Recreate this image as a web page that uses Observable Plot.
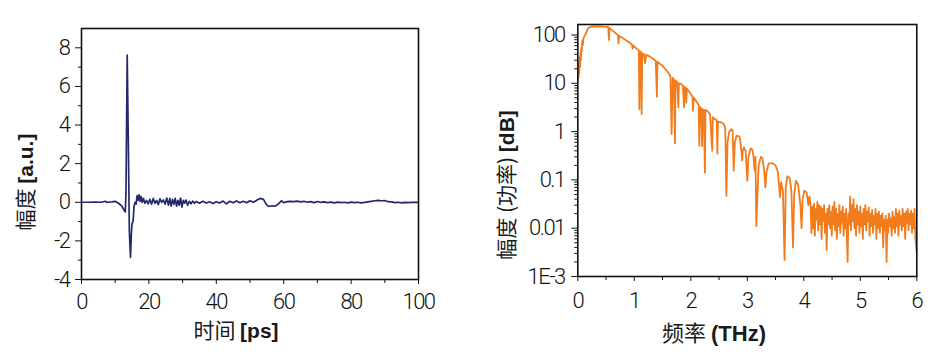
<!DOCTYPE html>
<html><head><meta charset="utf-8">
<script src="https://cdn.jsdelivr.net/npm/d3@7"></script>
<script src="https://cdn.jsdelivr.net/npm/@observablehq/plot@0.6"></script>
<style>
html,body{margin:0;padding:0;background:#fff;}
#wrap{position:relative;width:946px;height:364px;overflow:hidden;background:#fff;}
#wrap svg{position:absolute;top:0;}
</style></head><body><div id="wrap"></div>
<script>
// ---------- data ----------
// time-domain waveform: [time ps, amplitude a.u.]
const waveform = [
[0,0],[2,0],[4,0.01],[6,0],[7,0.05],[7.5,0],[9,0.02],[10,0.05],[11,-0.05],[12,-0.2],[12.6,-0.4],[13.0,-0.5],
[13.2,0.5],[13.56,7.62],[13.9,3],[14.2,-1.5],[14.54,-2.86],[14.8,-1.6],[15.0,-1.1],[15.3,-1.0],[15.6,-0.2],[15.9,0.0],
[16.2,-0.1],[16.5,0.35],[16.8,0.1],[17.1,0.38],[17.4,0.05],[17.7,0.3],[18.0,0.0],[18.4,0.2],[18.8,-0.05],[19.3,0.1],
[19.8,-0.08],[20.3,0.15],[20.8,-0.1],[21.3,0.2],[21.8,-0.05],[22.3,0.1],[22.8,-0.12],[23.3,0.18],[23.8,0.0],[24.3,0.12],
[24.8,-0.1],[25.3,0.22],[25.8,-0.15],[26.2,0.2],[26.6,-0.2],[27.0,0.15],[27.4,-0.1],[27.8,0.2],[28.2,-0.2],[28.6,0.1],
[29.0,-0.15],[29.4,0.22],[29.8,-0.25],[30.2,0.1],[30.6,-0.05],[31.0,0.12],[31.5,-0.15],[32.0,0.05],[32.5,-0.08],[33.0,0.06],
[33.5,-0.05],[34,0.04],[35,-0.05],[36,0.05],[37,-0.04],[38,0.03],[39,-0.06],[40,0.03],[41,-0.04],[42,0.06],[43,-0.08],
[44,0.05],[45,-0.03],[46,0.07],[47,-0.03],[48,0.05],[49,-0.02],[50,0.08],[51,0.0],[52,0.1],[53,0.2],[54,0.15],[54.8,-0.1],
[55.5,-0.22],[56.5,-0.18],[57.5,-0.2],[58.5,-0.08],[59.3,0.08],[60,-0.02],[61,0.03],[62,0.05],[63,0.03],[64,0.06],[65,0.02],
[66,0.05],[67,0.0],[68,0.03],[69,-0.02],[70,0.04],[71,-0.01],[72,0.02],[73,-0.02],[74,0.01],[75,-0.03],[76,0.01],[77,-0.02],
[78,0.0],[79,-0.03],[80,0.01],[81,-0.02],[82,0.0],[83,-0.03],[84,-0.01],[85,0.02],[86,0.05],[87,0.08],[88,0.1],[89,0.08],
[90,0.09],[91,0.03],[92,0.02],[93,-0.02],[94,0.0],[95,-0.03],[96,-0.01],[97,-0.02],[98,-0.01],[99,0.0],[100,-0.01]
];
// spectrum: [frequency THz, power]
const spectrum = [
[0,11],[0.008,20],[0.012,13],[0.02,28],[0.026,16],[0.033,35],[0.04,22],[0.048,44],[0.055,30],[0.062,55],[0.07,45],[0.08,76],
[0.09,62],[0.1,85],[0.12,95],[0.14,105],[0.165,125],[0.19,140],[0.22,147],[0.3,150],[0.38,151],[0.45,149],[0.52,148],[0.54,146],
[0.55,79],[0.56,140],[0.6,128],[0.66,112],[0.71,98],[0.72,67],[0.73,96],[0.8,86],[0.9,72],[0.96,63],[0.97,52],[0.98,61],
[1.05,51],[1.08,48],[1.09,2.9],[1.1,46],[1.12,44],[1.13,2.3],[1.14,42],[1.17,40],[1.19,26],[1.21,39],[1.25,37],[1.32,33],
[1.38,29],[1.4,5.3],[1.41,28],[1.5,23],[1.58,18],[1.64,14],[1.66,0.89],[1.68,13],[1.7,12],[1.72,0.57],[1.73,11.5],[1.76,10.5],
[1.78,3.2],[1.79,10],[1.82,9.8],[1.86,9],[1.88,3.2],[1.89,8.5],[1.91,8],[1.92,4],[1.93,7.8],[2.0,6],[2.03,5.3],[2.04,2.7],
[2.05,5.1],[2.1,4.2],[2.14,3.5],[2.15,0.51],[2.17,3.2],[2.19,3.0],[2.2,0.5],[2.21,2.9],[2.23,2.8],[2.25,0.14],[2.26,2.8],
[2.29,2.7],[2.34,2.3],[2.38,0.4],[2.39,2.0],[2.43,1.8],[2.46,1.7],[2.47,0.35],[2.48,1.6],[2.54,1.55],[2.58,1.45],[2.61,1.2],
[2.63,0.047],[2.65,0.6],[2.68,1.0],[2.72,1.12],[2.74,1.05],[2.76,0.155],[2.78,0.6],[2.81,0.82],[2.86,0.8],[2.88,0.6],[2.91,0.25],
[2.92,0.4],[2.94,0.47],[2.97,0.4],[3.0,0.096],[3.02,0.3],[3.06,0.45],[3.09,0.42],[3.11,0.3],[3.13,0.155],[3.145,0.3],[3.16,0.011],
[3.2,0.2],[3.24,0.3],[3.27,0.28],[3.3,0.15],[3.32,0.07],[3.34,0.15],[3.38,0.22],[3.45,0.22],[3.5,0.2],[3.54,0.15],[3.58,0.044],
[3.6,0.09],[3.63,0.06],[3.66,0.0022],[3.68,0.07],[3.71,0.12],[3.75,0.11],[3.78,0.06],[3.81,0.004],[3.83,0.05],[3.86,0.095],
[3.9,0.08],[3.94,0.03],[3.96,0.01],[3.98,0.04],[4.01,0.06],[4.05,0.055],[4.08,0.03],[4.1,0.045],
[4.12,0.03],[4.135,0.008],[4.15,0.028],[4.165,0.01],[4.18,0.032],[4.195,0.007],[4.21,0.025],[4.225,0.015],[4.24,0.035],
[4.255,0.009],[4.27,0.03],[4.285,0.012],[4.30,0.028],[4.315,0.006],[4.33,0.025],[4.345,0.014],[4.36,0.03],[4.375,0.008],
[4.39,0.02],[4.405,0.0035],[4.42,0.025],[4.435,0.012],[4.45,0.03],[4.465,0.01],[4.48,0.022],[4.495,0.007],[4.51,0.028],
[4.525,0.012],[4.54,0.035],[4.555,0.009],[4.57,0.025],[4.585,0.006],[4.60,0.02],[4.615,0.011],[4.63,0.03],[4.645,0.008],
[4.66,0.022],[4.675,0.013],[4.69,0.028],[4.705,0.007],[4.72,0.02],[4.735,0.01],[4.75,0.025],[4.765,0.005],[4.775,0.002],
[4.79,0.02],[4.805,0.012],[4.82,0.045],[4.835,0.009],[4.85,0.03],[4.865,0.014],[4.88,0.04],[4.895,0.01],[4.91,0.025],
[4.925,0.007],[4.94,0.03],[4.955,0.012],[4.97,0.022],[4.985,0.008],[5.00,0.028],[5.015,0.011],[5.03,0.02],[5.045,0.006],
[5.06,0.025],[5.075,0.012],[5.09,0.03],[5.105,0.009],[5.12,0.022],[5.135,0.014],[5.15,0.027],[5.165,0.007],[5.18,0.02],
[5.195,0.011],[5.21,0.024],[5.225,0.008],[5.24,0.018],[5.255,0.012],[5.27,0.025],[5.285,0.006],[5.30,0.02],[5.315,0.01],
[5.33,0.022],[5.345,0.008],[5.36,0.018],[5.375,0.011],[5.39,0.02],[5.405,0.004],[5.42,0.015],[5.435,0.009],[5.45,0.018],
[5.465,0.002],[5.48,0.015],[5.495,0.008],[5.51,0.02],[5.525,0.011],[5.54,0.016],[5.555,0.007],[5.57,0.022],[5.585,0.01],
[5.60,0.017],[5.615,0.008],[5.63,0.025],[5.645,0.011],[5.66,0.02],[5.675,0.007],[5.69,0.023],[5.705,0.012],[5.72,0.018],
[5.735,0.009],[5.75,0.025],[5.765,0.011],[5.78,0.02],[5.795,0.006],[5.81,0.022],[5.825,0.013],[5.84,0.025],[5.855,0.009],
[5.87,0.02],[5.885,0.012],[5.90,0.023],[5.915,0.008],[5.93,0.02],[5.945,0.01],[5.96,0.025],[5.975,0.006],[5.99,0.004],[6.0,0.003]
];
// ticks and labels
const timeTicks = [0, 20, 40, 60, 80, 100];
const timeMinorTicks = [10, 30, 50, 70, 90];
const ampTicks = [-4, -2, 0, 2, 4, 6, 8];
const ampMinorTicks = [-3, -1, 1, 3, 5, 7];
const freqTicks = [0, 1, 2, 3, 4, 5, 6];
const freqMinorTicks = [0.5, 1.5, 2.5, 3.5, 4.5, 5.5];
const powerTicks = [0.001, 0.01, 0.1, 1, 10, 100];
const powerTickLabels = ["1E-3", "0.01", "0.1", "1", "10", "100"];
const powerMinorTicks = [0.002,0.003,0.004,0.005,0.006,0.007,0.008,0.009,0.02,0.03,0.04,0.05,0.06,0.07,0.08,0.09,
  0.2,0.3,0.4,0.5,0.6,0.7,0.8,0.9,2,3,4,5,6,7,8,9,20,30,40,50,60,70,80,90];
const leftXLabel = [["时间 ", false], ["[ps]", true]];
const leftYLabel = [["幅度 ", false], ["[a.u.]", true]];
const rightXLabel = [["频率 ", false], ["(THz)", true]];
const rightYLabel = [["幅度 (功率) ", false], ["[dB]", true]];

// ---------- drawing ----------
const tickFont = 'Roboto, "Liberation Sans", Arial, sans-serif';
const cjkFont = '"Noto Sans CJK SC", sans-serif';
const boldFont = '"Liberation Sans", Arial, sans-serif';
const wrap = document.getElementById("wrap");
const blank = () => "";
const tickStyle = {fontFamily: tickFont, fontSize: "22px", fontWeight: 300, letterSpacing: "-1.5px",
  color: "#111", background: "transparent", overflow: "visible"};

function addLabel(svg, x, y, rotate, parts, size) {
  const t = d3.select(svg).append("text")
    .attr("transform", `translate(${x},${y}) rotate(${rotate})`)
    .attr("text-anchor", "middle").attr("dy", "0.36em")
    .attr("fill", "#1a1a1a").style("font-size", size + "px").style("letter-spacing", "0px");
  for (const [s, bold] of parts) {
    t.append("tspan").text(s)
      .style("font-family", bold ? boldFont : cjkFont)
      .style("font-weight", bold ? "bold" : "normal")
      .style("white-space", "pre");
  }
}

const left = Plot.plot({
  width: 473, height: 364,
  marginLeft: 81, marginRight: 55, marginTop: 28, marginBottom: 85,
  style: tickStyle,
  x: {domain: [0, 100]},
  y: {domain: [-4, 9]},
  marks: [
    Plot.axisX(timeTicks, {tickSize: 5, tickPadding: 9, label: null, tickFormat: d => String(d)}),
    Plot.axisX(timeMinorTicks, {tickSize: 4, label: null, tickFormat: blank}),
    Plot.axisY(ampTicks, {tickSize: 6, tickPadding: 6, label: null, tickFormat: d => String(d)}),
    Plot.axisY(ampMinorTicks, {tickSize: 3, label: null, tickFormat: blank}),
    Plot.line(waveform, {x: d => d[0], y: d => d[1], stroke: "#22296b", strokeWidth: 1.7}),
    Plot.frame({stroke: "#111", strokeWidth: 1.6})
  ]
});
left.style.left = "0px";
addLabel(left, 236, 330, 0, leftXLabel, 21);
addLabel(left, 25, 182, -90, leftYLabel, 21);
wrap.appendChild(left);

const right = Plot.plot({
  width: 473, height: 364,
  marginLeft: 104.3, marginRight: 29.7, marginTop: 24, marginBottom: 88,
  style: tickStyle,
  x: {domain: [0, 6]},
  y: {type: "log", domain: [0.001, 165]},
  marks: [
    Plot.axisX(freqTicks, {tickSize: 5, tickPadding: 11, label: null, tickFormat: d => String(d)}),
    Plot.axisX(freqMinorTicks, {tickSize: 4, label: null, tickFormat: blank}),
    Plot.axisY(powerTicks, {tickSize: 6, tickPadding: 7, label: null,
      tickFormat: d => powerTickLabels[powerTicks.indexOf(d)]}),
    Plot.axisY(powerMinorTicks, {tickSize: 3, label: null, tickFormat: blank}),
    Plot.line(spectrum, {x: d => d[0], y: d => d[1], stroke: "#f27b1c", strokeWidth: 1.8}),
    Plot.frame({stroke: "#111", strokeWidth: 1.6})
  ]
});
right.style.left = "473px";
addLabel(right, 241, 333, 0, rightXLabel, 22);
addLabel(right, 33, 185, -90, rightYLabel, 21);
wrap.appendChild(right);
</script></body></html>
